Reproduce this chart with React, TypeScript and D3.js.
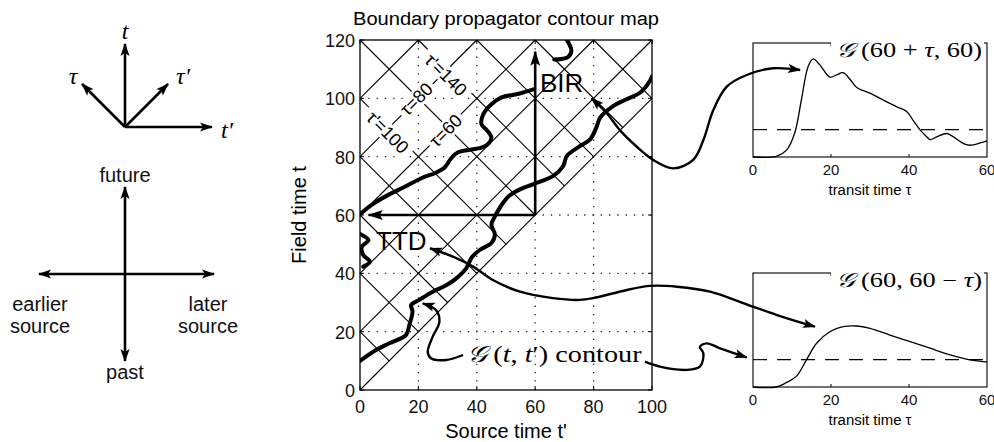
import React from 'react';
import * as d3 from 'd3';

type Pt = [number, number];

// contour map axes
const sourceTicks = [0, 20, 40, 60, 80, 100];
const fieldTicks = [0, 20, 40, 60, 80, 100, 120];
const gridSource = [20, 40, 60, 80];
const gridField = [20, 40, 60, 80, 100];

// tau = t - t' lines and tau' = t + t' lines
const tauLevels = [0, 20, 40, 60, 80, 100];
const tauPrimeLevels = [20, 40, 60, 80, 100, 120, 140, 160, 180, 200];

const levelLabels = [
  { text: "τ'=140", s: 29.4, t: 108, angle: 45, w: 62 },
  { text: 'τ=80', s: 19.4, t: 99.7, angle: -45, w: 44 },
  { text: 'τ=60', s: 29.4, t: 88.9, angle: -45, w: 44 },
  { text: "τ'=100", s: 9.4, t: 88.3, angle: 45, w: 62 },
];

// G(t,t') contour pieces, [t', t]
const contourMain: Pt[] = [
  [0, 10], [5.5, 13.7], [10, 16], [15.8, 18.9], [16.9, 22.3], [18, 26.9], [17.5, 29.1],
  [20.3, 30.9], [24.9, 33.7], [29.5, 35.9], [32.9, 38.2], [36.3, 41.6], [38.3, 45.5],
  [41, 48], [45, 50.4], [46.2, 53.3], [45, 56.7], [46.2, 59.5], [48.2, 63], [51, 66.5],
  [54.8, 68.8], [59.4, 70.6], [66.2, 73.4], [69.6, 76.8], [70.8, 80.2], [75.3, 83.6],
  [78.8, 85.9], [81.1, 90.4], [82.2, 93.3], [86.8, 97.4], [91.3, 99.7], [96, 102],
  [99.3, 106], [100, 107.5],
];
const contourUpper: Pt[] = [
  [0, 60.3], [4, 63.5], [9.7, 66.9], [15, 69.5], [21, 72.6], [26, 74.5], [29, 76.3],
  [31.4, 79.7], [33.6, 81.5], [37, 82.3], [41.6, 83.1], [44, 84.5], [45, 86.5],
  [43.5, 89], [41.6, 91.1], [42.2, 94.5], [45, 98], [48.5, 100.3], [54, 101.5], [59.4, 103.1],
];
const contourHook: Pt[] = [[66.5, 113.3], [69, 113.5], [71.3, 114.2], [72.4, 116.3], [71.8, 118.3], [70.5, 120.5]];
const contourEdge: Pt[] = [[0, 53.5], [2.9, 51.4], [0.6, 49.1], [1.1, 46.3], [3.4, 44], [1.1, 42.3]];

// inset curves
const birTau = [0, 6, 8.6, 10.7, 12.4, 14.1, 15.4, 17.1, 19.7, 21.4, 23.1, 24.9, 26.6, 30, 33.4, 36.9, 39.4, 41.1, 42.9, 44.6, 45.4, 47.1, 49.7, 51.4, 54, 55.7, 58.3, 60];
const birG = [0, 0.006, 0.06, 0.21, 0.5, 0.79, 0.86, 0.81, 0.7, 0.72, 0.74, 0.68, 0.61, 0.56, 0.5, 0.44, 0.4, 0.32, 0.236, 0.176, 0.153, 0.176, 0.206, 0.176, 0.118, 0.103, 0.123, 0.141];
const birMean = 0.24;
const ttdTau = [0, 6, 8.6, 11.1, 13.7, 16.3, 19.7, 23.1, 26.6, 30, 35.1, 40.3, 45.4, 50.6, 55.7, 59.1, 60];
const ttdG = [0, 0, 0.04, 0.093, 0.238, 0.384, 0.485, 0.529, 0.535, 0.515, 0.456, 0.398, 0.34, 0.282, 0.238, 0.223, 0.22];
const ttdMean = 0.24;
const insetTicks = [0, 20, 40, 60];

// annotation arrows, in contour-map units [t', t]
const birArrow: Pt[] = [[79.3, 100], [84.5, 94.9], [89, 89.1], [94.8, 83.4], [100.4, 78.9], [107.3, 76], [114.1, 78.9], [117.6, 85.7], [121, 96], [125.6, 104], [132.4, 108], [141.5, 110.3], [150.7, 109.7]];
const ttdArrow: Pt[] = [[24, 48.6], [31.8, 45.7], [38.7, 42.3], [45.5, 37.7], [54.8, 33.7], [66.1, 31.5], [75.3, 30.9], [79.8, 31.5], [91.4, 34.3], [99.3, 35.7], [108.6, 35.4], [119.9, 33.7], [131.2, 29.8], [142.8, 25.7], [155.8, 21.7]];
const contourArrow: Pt[] = [[35.3, 12], [29.5, 10.3], [24.3, 10.9], [23.2, 13.1], [24.9, 18.3], [27.2, 23.4], [26, 27.4], [21.5, 29.7]];
const insetArrow: Pt[] = [[97.6, 9.7], [102.7, 8], [111.9, 6.9], [116.4, 8], [117.6, 12.6], [116.4, 14.8], [118.7, 16], [123.3, 14.3], [132.4, 11.2]];
const readout: Pt = [60, 60];

const SANS = '"Liberation Sans", Arial, Helvetica, sans-serif';
const SERIF = '"Liberation Serif", "DejaVu Serif", serif';

export default function App() {
  const x = d3.scaleLinear().domain([0, 100]).range([360, 652]);
  const y = d3.scaleLinear().domain([0, 120]).range([390, 40]);
  const ix = d3.scaleLinear().domain([0, 60]).range([753, 987]);
  const birY = d3.scaleLinear().domain([0, 1]).range([157, 43]);
  const ttdY = d3.scaleLinear().domain([0, 1]).range([387, 273]);

  const mapLine = d3.line<Pt>().x(d => x(d[0])).y(d => y(d[1])).curve(d3.curveCatmullRom.alpha(0.5));
  const birLine = d3.line<number>().x(d => ix(d)).y((d, i) => birY(birG[i])).curve(d3.curveCatmullRom.alpha(0.5));
  const ttdLine = d3.line<number>().x(d => ix(d)).y((d, i) => ttdY(ttdG[i])).curve(d3.curveCatmullRom.alpha(0.5));

  // clip the diagonal lines to t >= t' inside the box
  const tauSegs = tauLevels
    .map(c => [0, Math.min(100, 120 - c)].map(s => [s, s + c] as Pt))
    .filter(p => p[1][0] > p[0][0]);
  const tauPrimeSegs = tauPrimeLevels
    .map(v => [Math.max(0, v - 120), Math.min(100, v / 2)].map(s => [s, v - s] as Pt))
    .filter(p => p[1][0] > p[0][0]);

  const [x0, x1] = x.range();
  const [y0, y1] = y.range();

  return (
    <svg width={994} height={442} style={{ position: 'absolute', left: 0, top: 0, background: '#fff' }}>
      <defs>
        <marker id="ah" viewBox="-14 -6 16 12" markerWidth={16} markerHeight={12} refX={0} refY={0}
          orient="auto-start-reverse" markerUnits="userSpaceOnUse">
          <path d="M1,0 L-12,-4.6 L-9,0 L-12,4.6 Z" fill="#000" />
        </marker>
        <marker id="ahBig" viewBox="-16 -6 18 12" markerWidth={18} markerHeight={12} refX={0} refY={0}
          orient="auto-start-reverse" markerUnits="userSpaceOnUse">
          <path d="M1,0 L-14,-5 L-11,0 L-14,5 Z" fill="#000" />
        </marker>
        <clipPath id="mapClip">
          <rect x={x0} y={y1} width={x1 - x0} height={y0 - y1} />
        </clipPath>
      </defs>

      {/* ---- left schematic ---- */}
      <g stroke="#000" strokeWidth={2.6} fill="none">
        <line x1={125} y1={127} x2={125} y2={44} markerEnd="url(#ah)" />
        <line x1={125} y1={127} x2={212} y2={127} markerEnd="url(#ah)" />
        <line x1={125} y1={127} x2={82} y2={84} markerEnd="url(#ah)" />
        <line x1={125} y1={127} x2={168} y2={84} markerEnd="url(#ah)" />
        <line x1={125} y1={274} x2={125} y2={187} markerEnd="url(#ah)" />
        <line x1={125} y1={274} x2={125} y2={361} markerEnd="url(#ah)" />
        <line x1={125} y1={274} x2={39} y2={274} markerEnd="url(#ah)" />
        <line x1={125} y1={274} x2={214} y2={274} markerEnd="url(#ah)" />
      </g>
      <g fontFamily={SERIF} fontStyle="italic" fontSize={24} textAnchor="middle">
        <text x={125} y={39}>t</text>
        <text x={227} y={138}>t′</text>
        <text x={73} y={84}>τ</text>
        <text x={183} y={84}>τ′</text>
      </g>
      <g fontFamily={SANS} fontSize={20} textAnchor="middle" fill="#111">
        <text x={125} y={182}>future</text>
        <text x={125} y={379}>past</text>
        <text x={40} y={311}>earlier</text>
        <text x={40} y={333}>source</text>
        <text x={208} y={311}>later</text>
        <text x={208} y={333}>source</text>
      </g>

      {/* ---- contour map ---- */}
      <text x={(x0 + x1) / 2} y={25} textAnchor="middle" fontFamily={SANS} fontSize={18} textLength={306} lengthAdjust="spacingAndGlyphs">
        Boundary propagator contour map
      </text>
      <g stroke="#222" strokeWidth={1.3} strokeDasharray="1.3 7">
        {gridSource.map(v => <line key={'gx' + v} x1={x(v)} x2={x(v)} y1={y1} y2={y0} />)}
        {gridField.map(v => <line key={'gy' + v} x1={x0} x2={x1} y1={y(v)} y2={y(v)} />)}
      </g>
      <g stroke="#000" strokeWidth={1.1}>
        {[...tauSegs, ...tauPrimeSegs].map((p, i) => (
          <line key={'d' + i} x1={x(p[0][0])} y1={y(p[0][1])} x2={x(p[1][0])} y2={y(p[1][1])} />
        ))}
      </g>
      {levelLabels.map(l => (
        <g key={l.text + l.t} transform={`translate(${x(l.s)},${y(l.t)}) rotate(${l.angle})`}>
          <rect x={-l.w / 2} y={-9} width={l.w} height={18} fill="#fff" />
          <text textAnchor="middle" dominantBaseline="central" fontFamily={SANS} fontSize={18}>{l.text}</text>
        </g>
      ))}
      <g fill="none" stroke="#000" strokeWidth={4} strokeLinecap="round" clipPath="url(#mapClip)">
        {[contourMain, contourUpper, contourHook, contourEdge].map((c, i) => <path key={'c' + i} d={mapLine(c) || ''} />)}
      </g>
      <g stroke="#000" strokeWidth={2.6}>
        <line x1={x(readout[0])} y1={y(readout[1])} x2={x(3)} y2={y(readout[1])} markerEnd="url(#ahBig)" />
        <line x1={x(readout[0])} y1={y(readout[1])} x2={x(readout[0])} y2={y(116)} markerEnd="url(#ahBig)" />
      </g>
      <rect x={x0} y={y1} width={x1 - x0} height={y0 - y1} fill="none" stroke="#000" strokeWidth={1.3} />
      <g stroke="#000" strokeWidth={1}>
        {sourceTicks.map(v => <line key={'tb' + v} x1={x(v)} x2={x(v)} y1={y0} y2={y0 - 4} />)}
        {sourceTicks.map(v => <line key={'tt' + v} x1={x(v)} x2={x(v)} y1={y1} y2={y1 + 4} />)}
        {fieldTicks.map(v => <line key={'tl' + v} x1={x0} x2={x0 + 4} y1={y(v)} y2={y(v)} />)}
        {fieldTicks.map(v => <line key={'tr' + v} x1={x1} x2={x1 - 4} y1={y(v)} y2={y(v)} />)}
      </g>
      <g fontFamily={SANS} fontSize={18} fill="#111">
        {sourceTicks.map(v => <text key={'xl' + v} x={x(v)} y={y0 + 23} textAnchor="middle">{v}</text>)}
        {fieldTicks.map(v => <text key={'yl' + v} x={x0 - 5} y={y(v) + 7} textAnchor="end">{v}</text>)}
      </g>
      <text x={(x0 + x1) / 2} y={438} textAnchor="middle" fontFamily={SANS} fontSize={20}>Source time t'</text>
      <text transform={`translate(306,${(y0 + y1) / 2}) rotate(-90)`} textAnchor="middle" fontFamily={SANS} fontSize={20}>Field time t</text>
      <g fontFamily={SANS} fontSize={26}>
        <text x={540} y={92}>BIR</text>
        <text x={376} y={250}>TTD</text>
      </g>
      <text x={x(36.5)} y={362} fontFamily={SERIF} fontSize={23} textLength={175} lengthAdjust="spacingAndGlyphs">
        <tspan fontStyle="italic">𝒢</tspan> (<tspan fontStyle="italic">t</tspan>, <tspan fontStyle="italic">t</tspan>′) contour
      </text>

      {/* ---- insets ---- */}
      {[
        { yS: birY, line: birLine(birTau), mean: birMean, title: '(60 + ', tail: ', 60)' },
        { yS: ttdY, line: ttdLine(ttdTau), mean: ttdMean, title: '(60, 60 − ', tail: ')' },
      ].map((p, k) => {
        const [b, t] = p.yS.range();
        return (
          <g key={'inset' + k}>
            <rect x={ix(0)} y={t} width={ix(60) - ix(0)} height={b - t} fill="none" stroke="#000" strokeWidth={1.1} />
            <line x1={ix(0)} x2={ix(60)} y1={p.yS(p.mean)} y2={p.yS(p.mean)} stroke="#000" strokeWidth={1.1} strokeDasharray="14 10" />
            <path d={p.line || ''} fill="none" stroke="#000" strokeWidth={1.3} />
            {insetTicks.slice(1, 3).map(v => (
              <g key={v} stroke="#000" strokeWidth={1}>
                <line x1={ix(v)} x2={ix(v)} y1={b} y2={b - 3} />
                <line x1={ix(v)} x2={ix(v)} y1={t} y2={t + 3} />
              </g>
            ))}
            <rect x={831} y={t - 8} width={153} height={14} fill="#fff" />
            <text x={982} y={t + 14} textAnchor="end" fontFamily={SERIF} fontSize={20} textLength={146} lengthAdjust="spacingAndGlyphs">
              <tspan fontStyle="italic">𝒢</tspan> {p.title}<tspan fontStyle="italic">τ</tspan>{p.tail}
            </text>
            <g fontFamily={SANS} fontSize={15} fill="#111" textAnchor="middle">
              {insetTicks.map(v => <text key={'il' + v} x={ix(v)} y={b + 18}>{v}</text>)}
            </g>
            <text x={ix(30)} y={b + 38} textAnchor="middle" fontFamily={SANS} fontSize={14} textLength={83} lengthAdjust="spacingAndGlyphs">transit time τ</text>
          </g>
        );
      })}

      {/* ---- annotation arrows ---- */}
      <g fill="none" stroke="#000" strokeWidth={2.4}>
        <path d={mapLine(birArrow) || ''} markerStart="url(#ah)" markerEnd="url(#ah)" />
        <path d={mapLine(ttdArrow) || ''} markerStart="url(#ah)" markerEnd="url(#ah)" />
        <path d={mapLine(contourArrow) || ''} markerEnd="url(#ah)" />
        <path d={mapLine(insetArrow) || ''} markerEnd="url(#ah)" />
      </g>
    </svg>
  );
}
